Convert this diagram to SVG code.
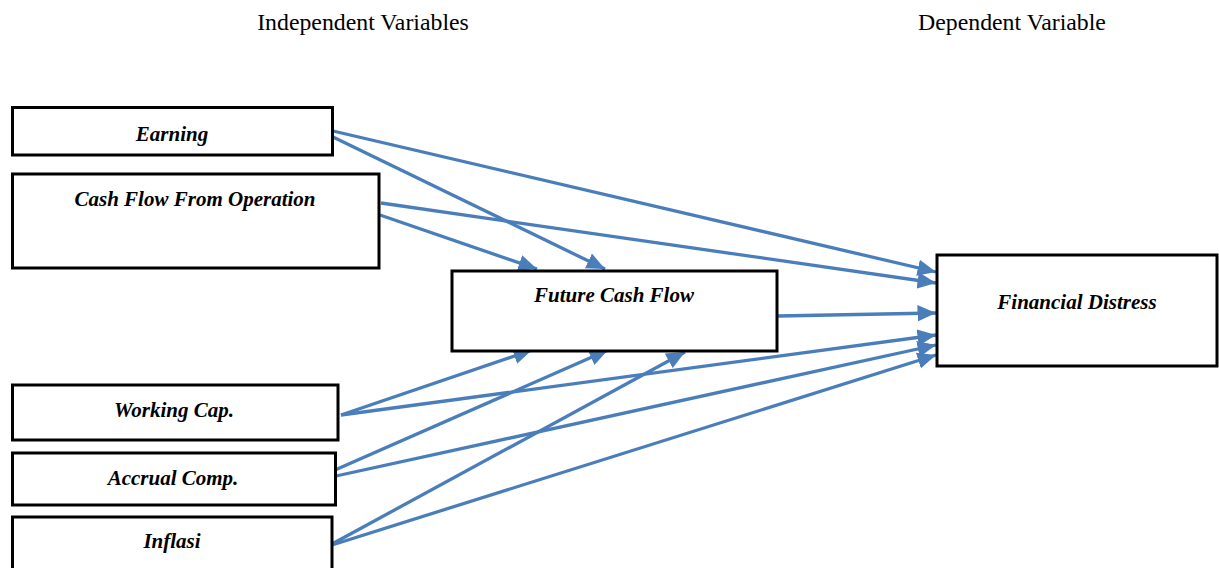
<svg xmlns="http://www.w3.org/2000/svg" width="1219" height="568" viewBox="0 0 1219 568">
  <style>
    .box { fill: #ffffff; stroke: #000000; stroke-width: 3; }
    .label { font-family: "Liberation Serif", "Times New Roman", serif; font-size: 21px; font-weight: bold; font-style: italic; fill: #000000; text-anchor: middle; }
    .heading { font-family: "Liberation Serif", "Times New Roman", serif; font-size: 23.8px; fill: #000000; text-anchor: middle; }
    .link { fill: none; stroke: #4A7EBB; stroke-width: 3.3; marker-end: url(#arrow); }
  </style>
  <defs>
    <marker id="arrow" markerUnits="strokeWidth" markerWidth="5.6" markerHeight="5" refX="5.6" refY="2.5" orient="auto">
      <path d="M0,0 L5.6,2.5 L0,5 z" fill="#4A7EBB"/>
    </marker>
  </defs>
  <rect width="1219" height="568" fill="#ffffff"/>

  <text class="heading" x="363" y="30">Independent Variables</text>
  <text class="heading" x="1012" y="30">Dependent Variable</text>

  <g id="connectors">
    <!-- Earning -->
    <line class="link" x1="333" y1="131" x2="936" y2="272"/>
    <line class="link" x1="333" y1="137" x2="605" y2="269"/>
    <!-- Cash Flow From Operation -->
    <line class="link" x1="381" y1="203" x2="936" y2="283"/>
    <line class="link" x1="380" y1="215" x2="537" y2="269"/>
    <!-- Future Cash Flow -->
    <line class="link" x1="778" y1="316" x2="936" y2="313"/>
    <!-- Working Cap. -->
    <line class="link" x1="341" y1="415" x2="532" y2="350"/>
    <line class="link" x1="341" y1="415" x2="936" y2="335"/>
    <!-- Accrual Comp. -->
    <line class="link" x1="335" y1="470" x2="608" y2="350"/>
    <line class="link" x1="336" y1="476" x2="936" y2="345"/>
    <!-- Inflasi -->
    <line class="link" x1="332" y1="544" x2="685" y2="352"/>
    <line class="link" x1="332" y1="545" x2="936" y2="355"/>
  </g>

  <g id="earning">
    <rect class="box" x="12.5" y="107.5" width="320" height="47.5"/>
    <text class="label" x="172" y="141">Earning</text>
  </g>
  <g id="cash-flow-from-operation">
    <rect class="box" x="12.5" y="174" width="366.5" height="94"/>
    <text class="label" x="195" y="206">Cash Flow From Operation</text>
  </g>
  <g id="future-cash-flow">
    <rect class="box" x="452" y="271" width="325" height="80"/>
    <text class="label" x="614" y="302">Future Cash Flow</text>
  </g>
  <g id="financial-distress">
    <rect class="box" x="937" y="255" width="280" height="111"/>
    <text class="label" x="1077" y="309">Financial Distress</text>
  </g>
  <g id="working-cap">
    <rect class="box" x="12.5" y="385" width="325.5" height="55"/>
    <text class="label" x="174" y="417">Working Cap.</text>
  </g>
  <g id="accrual-comp">
    <rect class="box" x="12.5" y="453" width="323" height="52"/>
    <text class="label" x="173" y="485">Accrual Comp.</text>
  </g>
  <g id="inflasi">
    <rect class="box" x="12.5" y="517" width="319.5" height="60"/>
    <text class="label" x="172" y="548">Inflasi</text>
  </g>
</svg>
